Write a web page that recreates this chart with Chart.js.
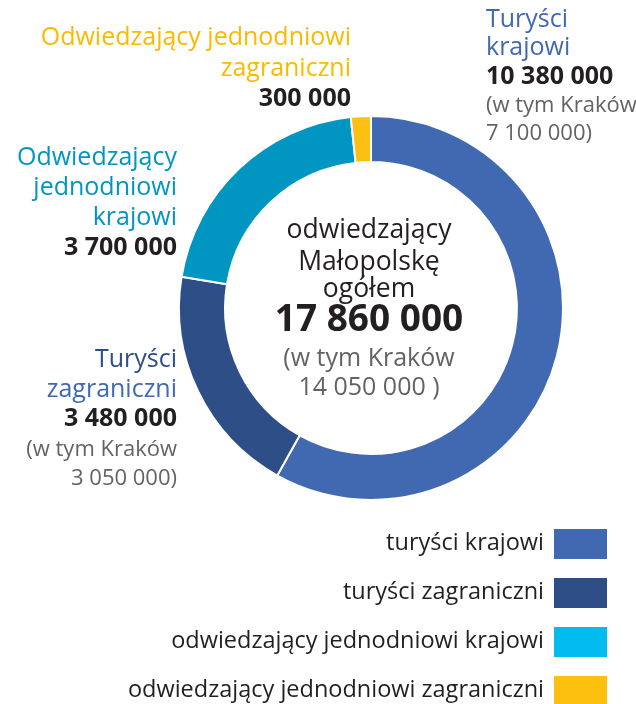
<!DOCTYPE html>
<html>
<head>
<meta charset="utf-8">
<script src="https://cdn.jsdelivr.net/npm/chart.js@4/dist/chart.umd.min.js"></script>
<style>
  html, body { margin: 0; padding: 0; background: #fff; }
  #wrap { width: 636px; height: 704px; }
</style>
</head>
<body>
<div id="wrap"><canvas id="visitorsChart" width="636" height="704"></canvas></div>
<script>
"use strict";

// data
const categories = ["turyści krajowi", "turyści zagraniczni", "odwiedzający jednodniowi krajowi", "odwiedzający jednodniowi zagraniczni"];
const visitors = [10380000, 3480000, 3700000, 300000];
const krakowVisitors = [7100000, 3050000, null, null];
const krakowTotal = 14050000;
const calloutTitles = [
  ["Turyści", "krajowi"],
  ["Turyści", "zagraniczni"],
  ["Odwiedzający", "jednodniowi", "krajowi"],
  ["Odwiedzający jednodniowi", "zagraniczni"],
];
const centerTitle = ["odwiedzający", "Małopolskę", "ogółem"];

// styles
const sliceColors = ["#4169B2", "#2E4E87", "#0096C1", "#FBC012"];
const legendColors = ["#4169B2", "#2E4E87", "#00BCEF", "#FDC00F"];
const titleColors = [
  ["#4169B2", "#4169B2"],
  ["#2E4E87", "#4169B2"],
  ["#0096C1", "#0096C1", "#0096C1"],
  ["#FBBA00", "#FBBA00"],
];
const FONT = "'Open Sans', sans-serif";
const DARK = "#231F20";
const GREY = "#636363";

// callout layout: x, alignment, first baseline, line step
const calloutPos = [
  { x: 486, align: "left", y: 27, step: 28.3 },
  { x: 177, align: "right", y: 367, step: 29.5 },
  { x: 177, align: "right", y: 165, step: 30 },
  { x: 351, align: "right", y: 45, step: 30.5 },
];

const fmt = (n) => String(n).replace(/\B(?=(\d{3})+(?!\d))/g, " ");

const labelsPlugin = {
  id: "labelsPlugin",
  afterDraw(chart) {
    const ctx = chart.ctx;
    ctx.save();
    // callouts
    visitors.forEach((value, i) => {
      const pos = calloutPos[i];
      ctx.textAlign = pos.align;
      ctx.textBaseline = "alphabetic";
      let y = pos.y;
      calloutTitles[i].forEach((line, j) => {
        ctx.font = "25px " + FONT;
        ctx.fillStyle = titleColors[i][j];
        ctx.fillText(line, pos.x, y);
        y += pos.step;
      });
      ctx.font = "bold 25px " + FONT;
      ctx.fillStyle = DARK;
      ctx.fillText(fmt(value), pos.x, y);
      y += pos.step;
      if (krakowVisitors[i] !== null) {
        ctx.font = "22px " + FONT;
        ctx.fillStyle = GREY;
        ctx.fillText("(w tym Kraków", pos.x, y);
        y += pos.step;
        ctx.fillText(fmt(krakowVisitors[i]) + ")", pos.x, y);
      }
    });

    // centre text
    const meta = chart.getDatasetMeta(0).data[0];
    const cx = meta.x - 2;
    ctx.textAlign = "center";
    ctx.font = "26.5px " + FONT;
    ctx.fillStyle = DARK;
    const centerY = [238, 270, 297];
    centerTitle.forEach((line, j) => ctx.fillText(line, cx, centerY[j]));
    const total = visitors.reduce((a, b) => a + b, 0);
    ctx.font = "bold 37px " + FONT;
    ctx.fillText(fmt(total), cx, 331);
    ctx.font = "25px " + FONT;
    ctx.fillStyle = GREY;
    ctx.fillText("(w tym Kraków", cx, 366);
    ctx.fillText(fmt(krakowTotal) + " )", cx, 395);

    // legend
    categories.forEach((name, i) => {
      const top = 529 + i * 49;
      ctx.fillStyle = legendColors[i];
      ctx.fillRect(554, top, 53, 30);
      ctx.font = "23.5px " + FONT;
      ctx.fillStyle = DARK;
      ctx.textAlign = "right";
      ctx.fillText(name, 544, top + 21);
    });
    ctx.restore();
  },
};

new Chart(document.getElementById("visitorsChart"), {
  type: "doughnut",
  data: {
    labels: categories,
    datasets: [
      {
        data: visitors,
        backgroundColor: sliceColors,
        borderColor: "#ffffff",
        borderWidth: 2,
        hoverOffset: 0,
      },
    ],
  },
  options: {
    responsive: false,
    animation: false,
    cutout: "76%",
    layout: { padding: { left: 178, right: 72, top: 115, bottom: 203 } },
    plugins: {
      legend: { display: false },
      tooltip: { enabled: false },
    },
  },
  plugins: [labelsPlugin],
});
</script>
</body>
</html>
